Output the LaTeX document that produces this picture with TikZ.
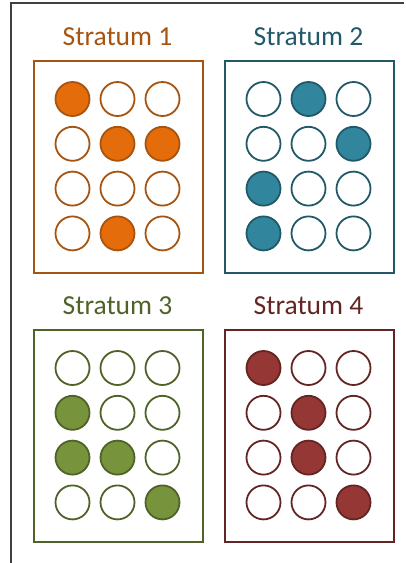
\documentclass[tikz,border=0pt]{standalone}
\usepackage{fontspec}
\setmainfont{Carlito}
\usetikzlibrary{math}
\definecolor{fillA}{RGB}{228,108,10}
\definecolor{lineA}{RGB}{166,84,16}
\definecolor{fillB}{RGB}{49,133,156}
\definecolor{lineB}{RGB}{33,89,104}
\definecolor{fillC}{RGB}{119,147,60}
\definecolor{lineC}{RGB}{79,98,40}
\definecolor{fillD}{RGB}{149,55,53}
\definecolor{lineD}{RGB}{99,37,35}
\definecolor{framegray}{RGB}{64,64,64}

\begin{document}
\begin{tikzpicture}[x=1pt,y=-1pt,
  box/.style={draw, line width=1.9pt, minimum width=169pt, minimum height=212pt, anchor=north west, inner sep=0pt},
  dot/.style={circle, draw, line width=1.8pt, minimum size=34pt, inner sep=0pt},
  title/.style={anchor=base, font=\fontsize{27.5}{32}\selectfont}]
\tikzmath{
\W=169;
\dx=45;
\dy=44.8;
\ox=39.5;
\oy=39;
}
\useasboundingbox (0,0) rectangle (406,563);

\draw[line width=2.2pt, color=framegray] (11,570) -- (11,3) -- (404,3);

\foreach \n/\x/\y/\c/\pat in {1/33/60/A/{1,0,0,0,1,1,0,0,0,0,1,0},
                              2/224/60/B/{0,1,0,0,0,1,1,0,0,1,0,0},
                              3/33/329/C/{0,0,0,1,0,0,1,1,0,0,0,1},
                              4/224/329/D/{1,0,0,0,1,0,0,1,0,0,0,1}}{
  \node[title, text=line\c] (title\n) at (\x+\W/2,\y-15) {Stratum \n};
  \node[box, draw=line\c] (box\n) at (\x,\y) {};
  \foreach \f [count=\i from 0] in \pat {
    \pgfmathtruncatemacro\col{mod(\i,3)}
    \pgfmathtruncatemacro\row{int(\i/3)}
    \pgfmathtruncatemacro\pct{100*\f}
    \node[dot, draw=line\c, fill=fill\c!\pct!white] (dot\n-\i) at (\x+\ox+\col*\dx,\y+\oy+\row*\dy) {};
  }
}
\end{tikzpicture}
\end{document}
